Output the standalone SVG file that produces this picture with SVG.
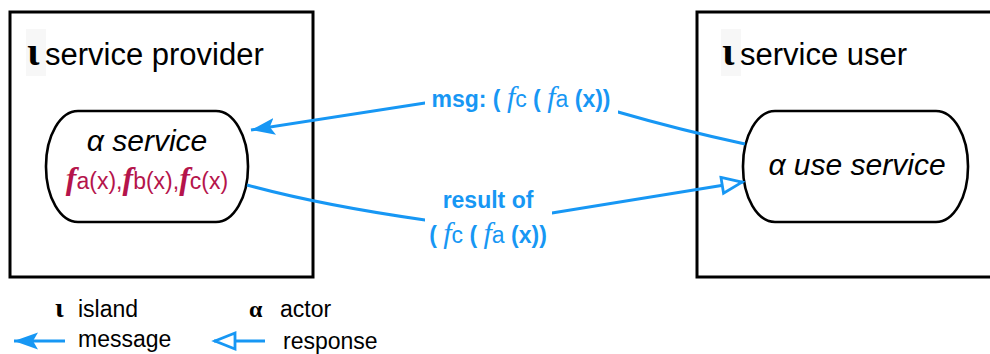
<svg xmlns="http://www.w3.org/2000/svg" width="990" height="354" viewBox="0 0 990 354">
  <style>
    .box { fill: #ffffff; stroke: #000000; stroke-width: 3; }
    .actor { fill: #ffffff; stroke: #000000; stroke-width: 2.6; }
    .hl { fill: #f7f7f7; }
    .title { font-family: "Liberation Sans", Arial, sans-serif; font-size: 31px; fill: #000000; }
    .iota { font-family: "Liberation Serif", "DejaVu Serif", serif; font-weight: bold; fill: #000000; }
    .actorText { font-family: "Liberation Sans", Arial, sans-serif; font-size: 30px; font-style: italic; fill: #000000; }
    .fnText { font-family: "Liberation Sans", Arial, sans-serif; font-size: 23px; fill: #b5144b; }
    .fn { font-family: "Liberation Serif", "DejaVu Serif", serif; font-weight: bold; font-style: italic; font-size: 32px; }
    .edge { fill: none; stroke: #1797f4; stroke-width: 3; }
    .lblbg { fill: #ffffff; }
    .lbl { font-family: "Liberation Sans", Arial, sans-serif; font-size: 23px; font-weight: bold; fill: #1797f4; }
    .lf { font-family: "Liberation Serif", "DejaVu Serif", serif; font-style: italic; font-weight: normal; font-size: 30px; }
    .lr { font-weight: normal; }
    .legend { font-family: "Liberation Sans", Arial, sans-serif; font-size: 23px; fill: #000000; }
  </style>
  <defs>
    <marker id="arrowFill" markerUnits="userSpaceOnUse" markerWidth="26" markerHeight="20" viewBox="0 0 26 20" refX="24" refY="10" orient="auto">
      <path d="M0,1.5 L24,10 L0,18.5 L5,10 Z" fill="#1797f4"/>
    </marker>
    <marker id="arrowOpen" markerUnits="userSpaceOnUse" markerWidth="26" markerHeight="22" viewBox="0 0 26 22" refX="23" refY="11" orient="auto">
      <path d="M2,3 L22,11 L2,19 Z" fill="#ffffff" stroke="#1797f4" stroke-width="2.8" stroke-linejoin="miter"/>
    </marker>
  </defs>

  <g id="island-provider">
    <rect class="box" x="10" y="12" width="303" height="265"/>
    <rect class="hl" x="26" y="29" width="20" height="47"/>
    <text class="iota" x="27" y="65" font-size="40">ι</text>
    <text class="title" x="45" y="65">service provider</text>
  </g>

  <g id="island-user">
    <rect class="box" x="697" y="12" width="320" height="265"/>
    <rect class="hl" x="721" y="29" width="20" height="47"/>
    <text class="iota" x="722" y="65" font-size="40">ι</text>
    <text class="title" x="740" y="65">service user</text>
  </g>

  <g id="actor-service">
    <rect class="actor" x="46" y="111" width="202" height="111" rx="32" ry="55"/>
    <text class="actorText" x="147" y="151" text-anchor="middle">α service</text>
    <text class="fnText" x="147" y="189" text-anchor="middle"><tspan class="fn">f</tspan>a(x),<tspan class="fn">f</tspan>b(x),<tspan class="fn">f</tspan>c(x)</text>
  </g>

  <g id="actor-use-service">
    <rect class="actor" x="743" y="111" width="225" height="111" rx="32" ry="55"/>
    <text class="actorText" x="857" y="175" text-anchor="middle">α use service</text>
  </g>

  <g id="connectors">
    <g id="msg">
      <path class="edge" d="M745,144 Q680,130 618,112 L521,90 L425,103 L251,130" marker-end="url(#arrowFill)"/>
      <rect class="lblbg" x="425" y="84" width="193" height="32"/>
      <text class="lbl" x="521" y="107" text-anchor="middle">msg: ( <tspan class="lf">f</tspan><tspan class="lr">c</tspan> ( <tspan class="lf">f</tspan><tspan class="lr">a</tspan> (x))</text>
    </g>
    <g id="result">
      <path class="edge" d="M247,185 Q320,205 425,220 L552,213 L743,182" marker-end="url(#arrowOpen)"/>
      <rect class="lblbg" x="425" y="188" width="127" height="62"/>
      <text class="lbl" x="488" y="208" text-anchor="middle">result of</text>
      <text class="lbl" x="488" y="243" text-anchor="middle">( <tspan class="lf">f</tspan><tspan class="lr">c</tspan> ( <tspan class="lf">f</tspan><tspan class="lr">a</tspan> (x))</text>
    </g>
  </g>

  <g id="legend">
    <text class="iota" x="55" y="317" font-size="28">ι</text>
    <text class="legend" x="78" y="317">island</text>
    <text class="iota" x="249" y="317" font-size="24">α</text>
    <text class="legend" x="280" y="317">actor</text>
    <path class="edge" d="M65,341 L14,341" marker-end="url(#arrowFill)"/>
    <text class="legend" x="78" y="347">message</text>
    <path class="edge" d="M265,341 L214,341" marker-end="url(#arrowOpen)"/>
    <text class="legend" x="283" y="349">response</text>
  </g>
</svg>
